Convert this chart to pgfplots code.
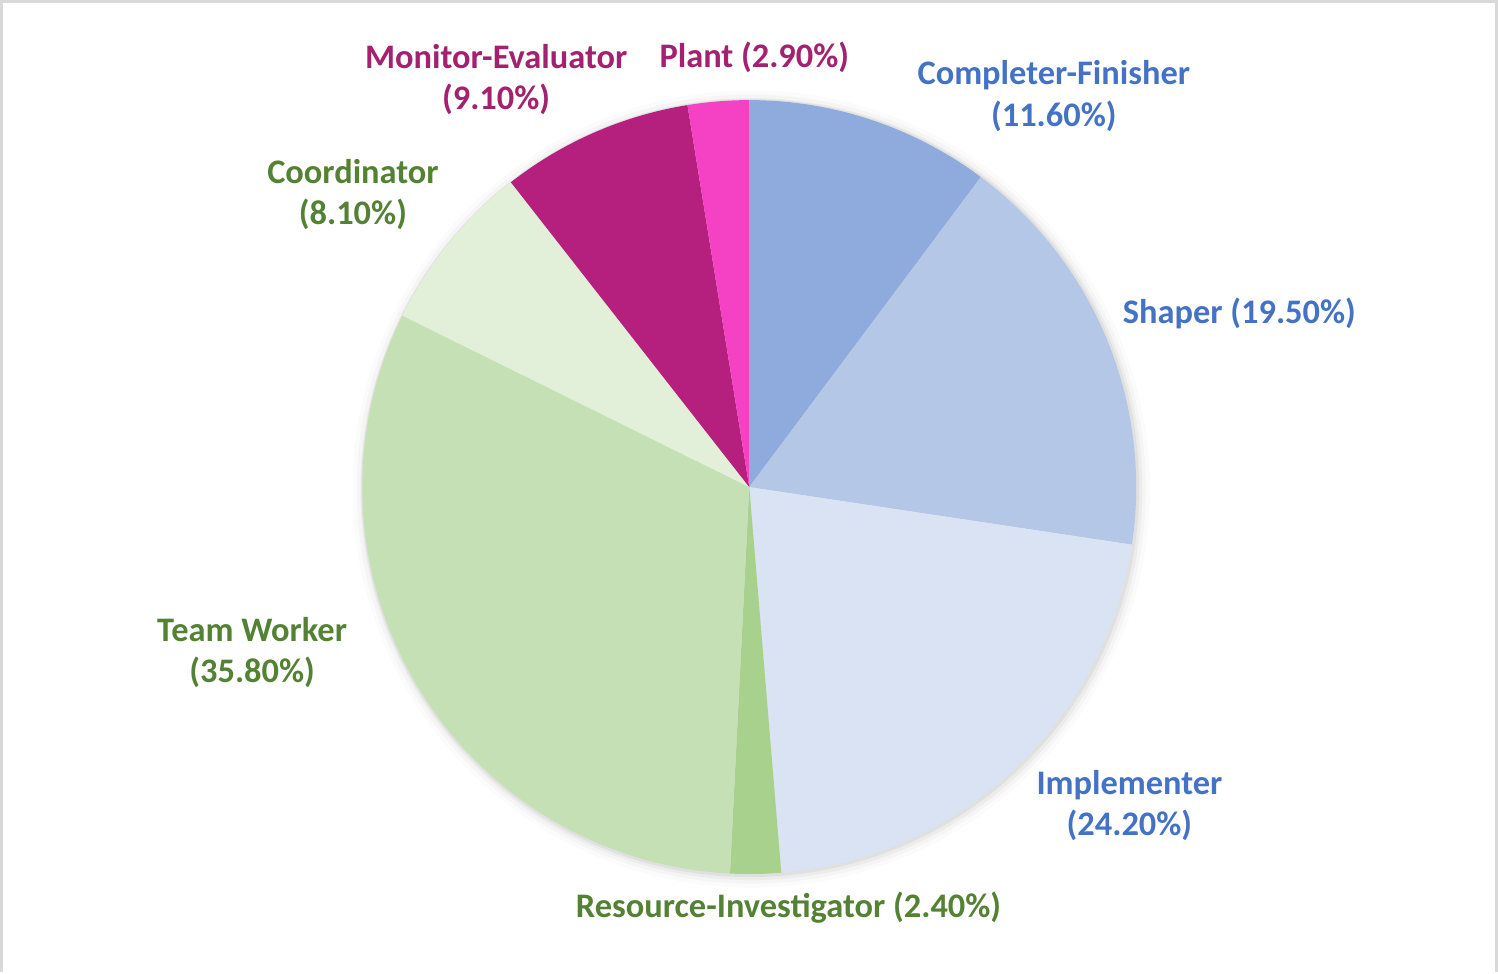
\documentclass[border=0pt]{standalone}
\usepackage{pgfplots}
\pgfplotsset{compat=1.18}
\usepackage{fontspec}
\setmainfont{Carlito}
\definecolor{cf}{HTML}{8FAADC}
\definecolor{sh}{HTML}{B4C7E7}
\definecolor{im}{HTML}{DAE3F3}
\definecolor{ri}{HTML}{A9D18E}
\definecolor{tw}{HTML}{C5E0B4}
\definecolor{co}{HTML}{E2F0D9}
\definecolor{me}{HTML}{B51F7E}
\definecolor{pl}{HTML}{F542C4}
\definecolor{tblue}{HTML}{4472C4}
\definecolor{tgreen}{HTML}{548235}
\definecolor{tmag}{HTML}{A3216F}
\definecolor{frame}{HTML}{D9D9D9}
\begin{document}
\begin{tikzpicture}
\begin{axis}[
  x=0.01cm, y=0.01cm,
  xmin=0, xmax=1498, ymin=0, ymax=968,
  hide axis, clip=false, scale only axis,
]
% frame
\draw[frame, line width=0.03cm] (axis cs:6.5,0) -- (axis cs:6.5,962.5) -- (axis cs:1489,962.5) -- (axis cs:1489,0);
% soft shadow
\fill[black, opacity=0.015] (axis cs:750,479) circle[radius=3.95cm];
\fill[black, opacity=0.025] (axis cs:750,479) circle[radius=3.91cm];
\fill[black, opacity=0.035] (axis cs:750,479) circle[radius=3.875cm];
\fill[black, opacity=0.05] (axis cs:749,480) circle[radius=3.855cm];
\def\cum{0}
\def\total{113.6}
\pgfplotsforeachungrouped \v/\c in {11.6/cf, 19.5/sh, 24.2/im, 2.4/ri, 35.8/tw, 8.1/co, 9.1/me, 2.9/pl}{
  \pgfmathsetmacro\a{90-\cum/\total*360}
  \pgfmathsetmacro\b{\a-\v/\total*360}
  \edef\tmp{\noexpand\fill[\c] (axis cs:748,481) -- ++(\a:3.835cm) arc[start angle=\a, end angle=\b, radius=3.835cm] -- cycle;}
  \tmp
  \pgfmathsetmacro\newcum{\cum+\v}
  \xdef\cum{\newcum}
}
\begin{scope}[every node/.style={font=\fontsize{9.7}{11.7}\selectfont\bfseries, align=center, inner sep=0pt}]
\node[text=tmag] at (axis cs:753,907) {Plant (2.90\%)};
\node[text=tmag] at (axis cs:497,885) {Monitor-Evaluator\\(9.10\%)};
\node[text=tblue] at (axis cs:1050,869) {Completer-Finisher\\(11.60\%)};
\node[text=tblue] at (axis cs:1234,653) {Shaper (19.50\%)};
\node[text=tblue] at (axis cs:1125,165) {Implementer\\(24.20\%)};
\node[text=tgreen] at (axis cs:787,64) {Resource-Investigator (2.40\%)};
\node[text=tgreen] at (axis cs:255,317) {Team Worker\\(35.80\%)};
\node[text=tgreen] at (axis cs:355,771) {Coordinator\\(8.10\%)};
\end{scope}
\end{axis}
\end{tikzpicture}
\end{document}
